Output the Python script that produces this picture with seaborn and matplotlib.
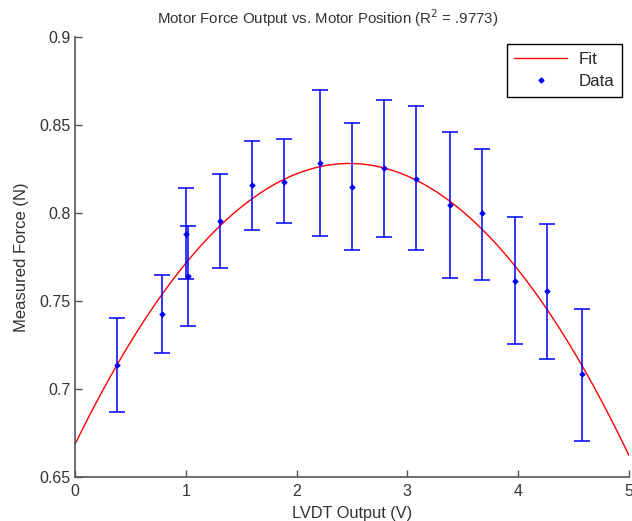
import numpy as np
import pandas as pd
import matplotlib
matplotlib.use("Agg")
import matplotlib.pyplot as plt
import seaborn as sns
from matplotlib.lines import Line2D

# Data
lvdt_v = [0.375, 0.787, 0.997, 1.015, 1.31, 1.60, 1.89, 2.21, 2.50, 2.793, 3.078, 3.384, 3.673, 3.97, 4.264, 4.574]
force_n = [0.7138, 0.7428, 0.7882, 0.7640, 0.7955, 0.8161, 0.8178, 0.8286, 0.8148, 0.8258, 0.8195, 0.8045, 0.7998, 0.7615, 0.7555, 0.7083]
err_low = [0.6871, 0.7203, 0.7623, 0.7360, 0.7688, 0.7905, 0.7941, 0.7871, 0.7790, 0.7864, 0.7790, 0.7632, 0.7619, 0.7257, 0.7172, 0.6706]
err_high = [0.7403, 0.7650, 0.8142, 0.7924, 0.8220, 0.8407, 0.8420, 0.8700, 0.8510, 0.8642, 0.8608, 0.8462, 0.8365, 0.7979, 0.7936, 0.7456]

x_ticks = [0, 1, 2, 3, 4, 5]
y_ticks = [0.65, 0.7, 0.75, 0.8, 0.85, 0.9]
y_tick_labels = ["0.65", "0.7", "0.75", "0.8", "0.85", "0.9"]

sns.set_style("ticks")
plt.rcParams['font.family'] = ['Liberation Sans', 'DejaVu Sans']

fig = plt.figure(figsize=(6.32, 5.21), dpi=100)
ax = fig.add_axes([0.119, 0.0845, 0.876, 0.8445])

x = np.array(lvdt_v)
y = np.array(force_n)
coef = np.polyfit(x, y, 2)
xf = np.linspace(0, 5, 200)
fit_df = pd.DataFrame({"x": xf, "y": np.polyval(coef, xf)})
sns.lineplot(data=fit_df, x="x", y="y", color="red", lw=1.0, ax=ax, legend=False)

yerr = [y - np.array(err_low), np.array(err_high) - y]
ax.errorbar(x, y, yerr=yerr, fmt="none", ecolor="blue", elinewidth=1.1, capsize=5.5, capthick=1.1)
df = pd.DataFrame({"x": x, "y": y})
sns.scatterplot(data=df, x="x", y="y", color="blue", marker="D", s=8, edgecolor="blue", linewidth=0.5, ax=ax, zorder=3, legend=False)

ax.set_xlim(0, 5)
ax.set_ylim(0.65, 0.9)
ax.set_xticks(x_ticks)
ax.set_xticklabels([str(t) for t in x_ticks])
ax.set_yticks(y_ticks)
ax.set_yticklabels(y_tick_labels)
ax.tick_params(direction="in", length=5, width=1, colors="#555555", labelsize=11.5, labelcolor="#333333")
ax.tick_params(axis="x", pad=5)
for s in ["top", "right"]:
    ax.spines[s].set_visible(False)
for s in ["left", "bottom"]:
    ax.spines[s].set_color("#555555")
    ax.spines[s].set_linewidth(1.2)

ax.set_xlabel("LVDT Output (V)", fontsize=11.8, color="#333333", labelpad=5)
ax.set_ylabel("Measured Force (N)", fontsize=12, color="#333333", labelpad=7)
ax.set_title("Motor Force Output vs. Motor Position (R$^2$ = .9773)", fontsize=10.8, color="#333333",
             pad=9, x=0.457)

handles = [Line2D([0], [0], color="red", lw=1.0),
           Line2D([0], [0], color="blue", marker="D", markersize=2.5, lw=0)]
leg = ax.legend(handles, ["Fit", "Data"], loc="upper right", bbox_to_anchor=(0.988, 0.984),
                fontsize=12.2, frameon=True, fancybox=False, edgecolor="black", framealpha=1,
                handlelength=3.1, handletextpad=0.7, borderpad=0.45, labelspacing=0.45, borderaxespad=0)
leg.get_frame().set_linewidth(1.0)

fig.savefig("out.png", dpi=100)
